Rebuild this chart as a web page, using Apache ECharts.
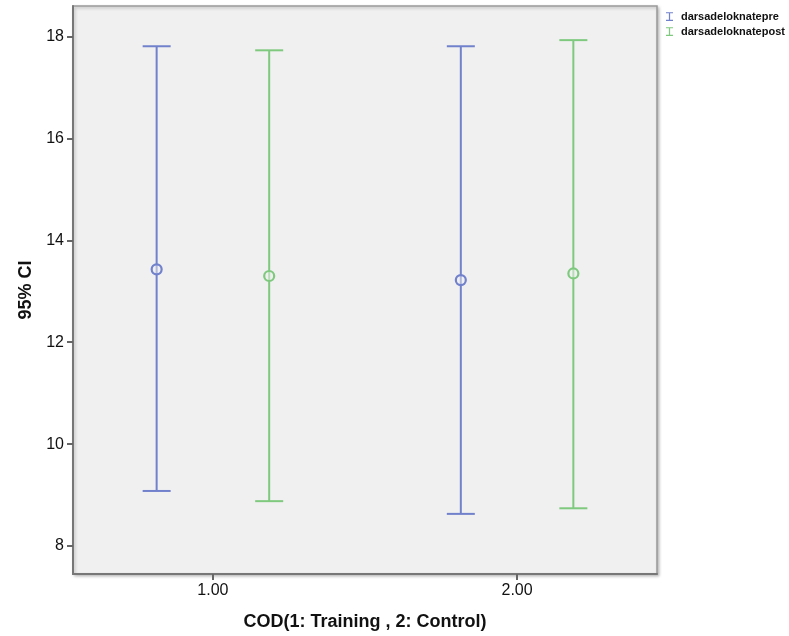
<!DOCTYPE html>
<html>
<head>
<meta charset="utf-8">
<script src="https://cdn.jsdelivr.net/npm/echarts@6/dist/echarts.min.js"></script>
<style>html,body{margin:0;padding:0;background:#fff}#c{width:789px;height:636px}</style>
</head>
<body>
<div id="c"></div>
<script>
var groups = [1, 2];
var groupLabels = ['1.00', '2.00'];
var seriesNames = ['darsadeloknatepre', 'darsadeloknatepost'];
var preMean = [13.43, 13.22];
var preLow = [9.08, 8.63];
var preHigh = [17.81, 17.81];
var postMean = [13.30, 13.35];
var postLow = [8.88, 8.74];
var postHigh = [17.73, 17.93];
var yTicks = [8, 10, 12, 14, 16, 18];

var colors = ['#7181cc', '#7fc97f'];
var offset = 0.185;

function buildData(mean, low, high, off) {
  return groups.map(function (g, i) { return [g + off, low[i], high[i], mean[i]]; });
}

function renderErr(color) {
  return function (params, api) {
    var x = api.value(0);
    var lo = api.coord([x, api.value(1)]);
    var hi = api.coord([x, api.value(2)]);
    var mid = api.coord([x, api.value(3)]);
    var hw = 14;
    var st = { stroke: color, lineWidth: 2, fill: null };
    return {
      type: 'group',
      children: [
        { type: 'line', shape: { x1: hi[0], y1: hi[1], x2: lo[0], y2: lo[1] }, style: st },
        { type: 'line', shape: { x1: hi[0] - hw, y1: hi[1], x2: hi[0] + hw, y2: hi[1] }, style: st },
        { type: 'line', shape: { x1: lo[0] - hw, y1: lo[1], x2: lo[0] + hw, y2: lo[1] }, style: st },
        { type: 'circle', shape: { cx: mid[0], cy: mid[1], r: 5 }, style: { stroke: color, lineWidth: 2.2, fill: 'rgba(240,240,240,0.5)' } }
      ]
    };
  };
}

var iconPath = 'path://M0,0H8V1.3H4.7V8.7H8V10H0V8.7H3.3V1.3H0Z';

var chart = echarts.init(document.getElementById('c'));
chart.setOption({
  animation: false,
  backgroundColor: '#ffffff',
  grid: {
    left: 73, right: 132, top: 6, bottom: 62,
    show: true, backgroundColor: '#f0f0f0', borderColor: '#999', borderWidth: 1.5,
    shadowColor: 'rgba(0,0,0,0.25)', shadowBlur: 3, shadowOffsetX: 1.5, shadowOffsetY: 1.5
  },
  legend: {
    orient: 'vertical', left: 661, top: 6, itemGap: 4,
    itemWidth: 7, itemHeight: 12,
    data: [{ name: seriesNames[0], icon: iconPath }, { name: seriesNames[1], icon: iconPath }],
    textStyle: { fontFamily: 'Liberation Sans, Arial', fontWeight: 'bold', fontSize: 11, color: '#111', padding: [0, 0, 0, 3] }
  },
  xAxis: {
    type: 'value', min: 0.54, max: 2.46,
    name: 'COD(1: Training , 2: Control)', nameLocation: 'middle', nameGap: 39,
    nameTextStyle: { fontFamily: 'Liberation Sans, Arial', fontWeight: 'bold', fontSize: 18, color: '#111' },
    splitLine: { show: false },
    axisLine: { show: true, onZero: false, lineStyle: { color: '#777', width: 2 } },
    axisTick: { show: true, customValues: groups, length: 6, lineStyle: { color: '#666', width: 2 } },
    axisLabel: {
      customValues: groups, margin: 9,
      formatter: function (v) { return groupLabels[groups.indexOf(v)] || ''; },
      fontFamily: 'Liberation Sans, Arial', fontSize: 16, color: '#111'
    }
  },
  yAxis: {
    type: 'value', min: 7.45, max: 18.6,
    name: '95% CI', nameLocation: 'middle', nameGap: 38, nameRotate: 90,
    nameTextStyle: { fontFamily: 'Liberation Sans, Arial', fontWeight: 'bold', fontSize: 18, color: '#111' },
    splitLine: { show: false },
    axisLine: { show: true, onZero: false, lineStyle: { color: '#777', width: 2 } },
    axisTick: { show: true, customValues: yTicks, length: 6, lineStyle: { color: '#666', width: 2 } },
    axisLabel: { customValues: yTicks, margin: 9, fontFamily: 'Liberation Sans, Arial', fontSize: 16, color: '#111' }
  },
  series: [
    {
      name: seriesNames[0], type: 'custom', color: colors[0],
      renderItem: renderErr(colors[0]),
      encode: { x: 0, y: [1, 2, 3] },
      data: buildData(preMean, preLow, preHigh, -offset)
    },
    {
      name: seriesNames[1], type: 'custom', color: colors[1],
      renderItem: renderErr(colors[1]),
      encode: { x: 0, y: [1, 2, 3] },
      data: buildData(postMean, postLow, postHigh, offset)
    }
  ]
});
</script>
</body>
</html>
